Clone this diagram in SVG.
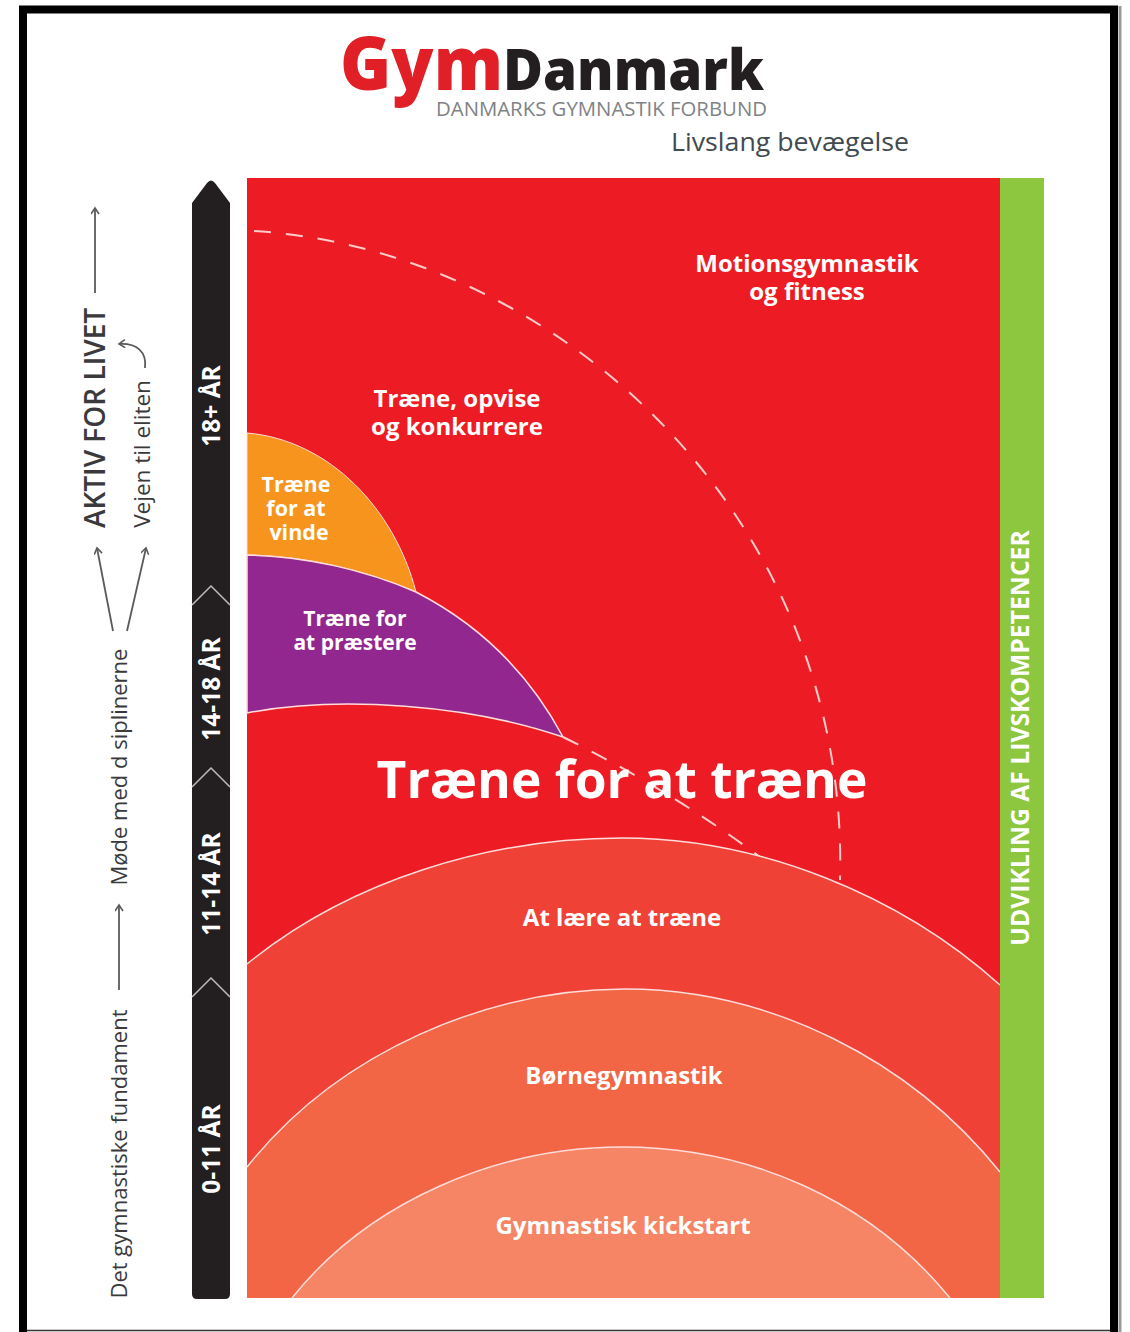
<svg xmlns="http://www.w3.org/2000/svg" width="1130" height="1332" viewBox="0 0 1130 1332">
<style>
text{font-family:"Open Sans","Noto Sans","Liberation Sans",sans-serif}
.w{fill:#fff;font-weight:700;text-anchor:middle}
.g{fill:#3a3a3c}
.a{fill:none;stroke:#fdd;stroke-width:1.5}
.d{fill:none;stroke:#fcc;stroke-width:2;stroke-dasharray:17 15}
.c{fill:none;stroke:#5a5a5c;stroke-width:1.8;marker-end:url(#ah)}
.n{fill:none;stroke:#bdbdbd;stroke-width:1.5}
</style>
<defs><marker id="ah" markerWidth="10" markerHeight="10" refX="7" refY="4" orient="auto" markerUnits="userSpaceOnUse"><path d="M1 0L7 4L1 8" fill="none" stroke="#5a5a5c" stroke-width="1.6"/></marker></defs>
<rect width="1130" height="1332" fill="#fff"/>
<path d="M1118 9.5H23V1332M1114 9.5V1332" fill="none" stroke="#000" stroke-width="8"/>
<path d="M1120 6V1332" stroke="#999" stroke-width="3"/>
<path d="M27 1330.5H1110" stroke="#333" stroke-width="1.5"/>
<g id="logo">
<text x="340" y="90" font-size="74" font-weight="800" fill="#e01f26" textLength="163" lengthAdjust="spacingAndGlyphs">Gym</text>
<text x="503" y="90" font-size="56" font-weight="800" fill="#231f20" textLength="261" lengthAdjust="spacingAndGlyphs">Danmark</text>
<text x="436" y="116" font-size="20" fill="#808285" textLength="331" lengthAdjust="spacingAndGlyphs">DANMARKS GYMNASTIK FORBUND</text>
<text x="671" y="151" font-size="26" fill="#404a50" textLength="238" lengthAdjust="spacingAndGlyphs">Livslang bevægelse</text>
</g>
<g id="motion">
<rect x="247" y="178" width="753" height="1120" fill="#ed1c24"/>
<text class="w" font-size="24" x="807" y="272">Motionsgymnastik</text>
<text class="w" font-size="24" x="807" y="300">og fitness</text>
<text class="w" font-size="24" x="457" y="407">Træne, opvise</text>
<text class="w" font-size="24" x="457" y="435">og konkurrere</text>
</g>
<g id="vinde">
<path d="M247 433C330 440 395 510 416 592C365 570 305 556 247 555Z" fill="#f7941d" stroke="#fdd" stroke-width="1"/>
<text class="w" font-size="21.5" x="296" y="492">Træne</text>
<text class="w" font-size="21.5" x="296" y="516">for at</text>
<text class="w" font-size="21.5" x="299" y="540">vinde</text>
</g>
<g id="praestere">
<path d="M247 555C305 556 365 570 416 592C480 625 530 675 563 737C470 705 340 695 247 713Z" fill="#92278f" stroke="#fdd" stroke-width="1.5"/>
<text class="w" font-size="21" x="355" y="626">Træne for</text>
<text class="w" font-size="21" x="355" y="650">at præstere</text>
</g>
<g id="connectors">
<path class="d" d="M254 231C560 250 850 520 840 880"/>
<path class="d" d="M563 737Q670 790 760 857"/>
<path class="c" d="M95 293V208"/>
<path class="c" d="M113 631L97 548"/>
<path class="c" d="M127 631L146 548"/>
<path class="c" d="M119 990V905"/>
<path class="c" d="M145 368C147 352 137 343 119 344"/>
</g>
<g id="traene"><text class="w" font-size="51.5" x="622" y="798">Træne for at træne</text></g>
<g id="laere">
<path d="M247 964C350 880 490 838 622 838C760 838 900 895 1000 985V1298H247Z" fill="#ef4136"/>
<path class="a" d="M247 964C350 880 490 838 622 838C760 838 900 895 1000 985"/>
<text class="w" font-size="24" x="622" y="926">At lære at træne</text>
</g>
<g id="boerne">
<path d="M247 1167C340 1050 490 989 625 989C770 989 910 1060 1000 1172V1298H247Z" fill="#f26645"/>
<path class="a" d="M247 1167C340 1050 490 989 625 989C770 989 910 1060 1000 1172"/>
<text class="w" font-size="24" x="624" y="1084">Børnegymnastik</text>
</g>
<g id="kickstart">
<path d="M292 1298C370 1200 500 1147 622 1147C750 1147 870 1200 950 1298Z" fill="#f58564"/>
<path class="a" d="M292 1298C370 1200 500 1147 622 1147C750 1147 870 1200 950 1298"/>
<text class="w" font-size="24" x="623" y="1234">Gymnastisk kickstart</text>
</g>
<g id="kompetencer">
<rect x="1000" y="178" width="44" height="1120" fill="#8dc63f"/>
<text class="w" font-size="24.7" transform="translate(1029 738) rotate(-90)">UDVIKLING AF LIVSKOMPETENCER</text>
</g>
<g id="aldre">
<path d="M192 203L207 183Q211 178 215 183L230 203V1294Q230 1299 225 1299H197Q192 1299 192 1294Z" fill="#231f20"/>
<path class="n" d="M192 605L211 586L230 605"/>
<path class="n" d="M192 787L211 768L230 787"/>
<path class="n" d="M192 997L211 978L230 997"/>
<text class="w" font-size="24.5" transform="translate(220 406) rotate(-90)">18+ ÅR</text>
<text class="w" font-size="24.5" transform="translate(220 689) rotate(-90)">14-18 ÅR</text>
<text class="w" font-size="24.5" transform="translate(220 884) rotate(-90)">11-14 ÅR</text>
<text class="w" font-size="24.5" transform="translate(220 1149) rotate(-90)">0-11 ÅR</text>
</g>
<g id="veje">
<text class="g" font-size="28" font-weight="600" text-anchor="middle" transform="translate(105 418) rotate(-90)">AKTIV FOR LIVET</text>
<text class="g" font-size="22.5" text-anchor="middle" transform="translate(150 454) rotate(-90)">Vejen til eliten</text>
<text class="g" font-size="22" text-anchor="middle" transform="translate(127 767) rotate(-90)">Møde med d siplinerne</text>
<text class="g" font-size="22" text-anchor="middle" transform="translate(127 1154) rotate(-90)">Det gymnastiske fundament</text>
</g>
</svg>
